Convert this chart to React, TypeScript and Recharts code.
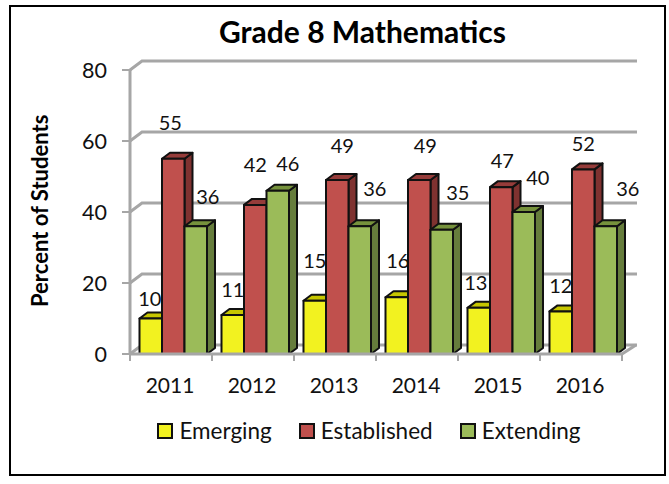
import { Bar, BarChart, CartesianGrid, LabelList, Legend, XAxis, YAxis } from "recharts";

const years = ["2011", "2012", "2013", "2014", "2015", "2016"];
const emerging = [10, 11, 15, 16, 13, 12];
const established = [55, 42, 49, 49, 47, 52];
const extending = [36, 46, 36, 35, 40, 36];
const yTicks = [0, 20, 40, 60, 80];

const data = years.map((year, i) => ({
  year,
  Emerging: emerging[i],
  Established: established[i],
  Extending: extending[i],
}));

// the value labels in the original were hand placed, so each one has its own nudge
const EMERGING_NUDGE = [[-1, -21], [0, -26], [0, -41], [1, -37], [-3, -26], [0, -26]];
const ESTABLISHED_NUDGE = [[-3, -37], [0, -41], [5, -35], [6, -35], [1, -27], [0, -26]];
const EXTENDING_NUDGE = [[12, -30], [10, -28], [15, -38], [16, -38], [14, -35], [22, -38]];

const FONT = "Lato, sans-serif";
const GRID = "#a6a6a6";
const DEPTH_X = 8;
const DEPTH_Y = 6;
const SHIFT = 2.5;

const box3d = (top: string, side: string) => (props: any) => {
  const { fill } = props;
  const x = props.x + SHIFT;
  const { y, width: w, height: h } = props;
  return (
    <g stroke="#111" strokeWidth={2} strokeLinejoin="round">
      <path fill={side} d={`M${x + w} ${y} l${DEPTH_X} ${-DEPTH_Y} v${h} l${-DEPTH_X} ${DEPTH_Y} z`} />
      <path fill={top} d={`M${x} ${y} l${DEPTH_X} ${-DEPTH_Y} h${w} l${-DEPTH_X} ${DEPTH_Y} z`} />
      <rect x={x} y={y} width={w} height={h} fill={fill} />
    </g>
  );
};

const nudged = (nudge: number[][]) => (props: any) => {
  const { x, y, width, index, value } = props;
  return (
    <text
      x={x + width / 2 + SHIFT + nudge[index][0]}
      y={y + nudge[index][1]}
      textAnchor="middle"
      dominantBaseline="central"
      fontFamily={FONT}
      fontSize={20}
      fill="#111"
    >
      {value}
    </text>
  );
};

const gridLine = (props: any) => {
  const { x1, x2, y1 } = props;
  return (
    <g key={`grid-${y1}`} stroke={GRID} strokeWidth={3} fill="none">
      <path d={`M${x1} ${y1} L${x1 + 12} ${y1 - 9} L${x2 + 15} ${y1 - 9}`} />
    </g>
  );
};

const YTick = (props: any) => {
  const { x, y, payload } = props;
  return (
    <g>
      <line x1={x} x2={x + 8} y1={y} y2={y} stroke={GRID} strokeWidth={2} />
      <text x={x - 15} y={y} textAnchor="end" dominantBaseline="central" fontFamily={FONT} fontSize={21.5} fill="#111">
        {payload.value}
      </text>
    </g>
  );
};

const XTick = (props: any) => {
  const { x, y, payload, index, visibleTicksCount } = props;
  const half = 41;
  const isLast = index === visibleTicksCount - 1;
  return (
    <g>
      <line x1={x - half} x2={x - half} y1={y - 8} y2={y - 1} stroke={GRID} strokeWidth={2} />
      {isLast && (
        <g stroke={GRID} fill="none">
          <line x1={x + half} x2={x + half} y1={y - 8} y2={y - 1} strokeWidth={2} />
          <line x1={x + half} x2={x + half + 14} y1={y - 8} y2={y - 17} strokeWidth={3} />
        </g>
      )}
      <text x={x - 1} y={y + 22} textAnchor="middle" dominantBaseline="central" fontFamily={FONT} fontSize={21} fill="#111">
        {payload.value}
      </text>
    </g>
  );
};

const renderLegend = (props: any) => (
  <div style={{ display: "flex", justifyContent: "center", gap: 27, fontFamily: FONT, fontSize: 22.5, color: "#111" }}>
    {props.payload.map((item: any) => (
      <span key={item.value} style={{ display: "flex", alignItems: "center", gap: 6 }}>
        <span style={{ width: 12, height: 12, background: item.color, border: "2px solid #111" }} />
        {item.value}
      </span>
    ))}
  </div>
);

export default function App() {
  return (
    <div style={{ position: "absolute", left: 0, top: 0, width: 669, height: 484, background: "#fff" }}>
      <div
        style={{
          position: "absolute",
          left: 9,
          top: 5,
          width: 653,
          height: 467,
          border: "2px solid #000",
        }}
      />
      <div
        style={{
          position: "absolute",
          left: 0,
          top: 13,
          width: 725,
          textAlign: "center",
          fontFamily: FONT,
          fontWeight: 700,
          fontSize: 30,
          color: "#000",
        }}
      >
        Grade 8 Mathematics
      </div>
      <BarChart
        width={669}
        height={484}
        data={data}
        barSize={22.5}
        barGap={0}
        margin={{ top: 70, right: 47, bottom: 80, left: 70 }}
        style={{ position: "absolute", left: 0, top: 0 }}
      >
        <CartesianGrid vertical={false} horizontal={gridLine} />
        <XAxis
          dataKey="year"
          height={50}
          tick={<XTick />}
          tickLine={false}
          interval={0}
          axisLine={{ stroke: GRID, strokeWidth: 3 }}
        />
        <YAxis
          domain={[0, 80]}
          ticks={yTicks}
          width={60}
          tick={<YTick />}
          tickLine={false}
          axisLine={{ stroke: GRID, strokeWidth: 3 }}
          label={{
            value: "Percent of Students",
            angle: -90,
            position: "insideLeft",
            dx: -35,
            dy: 95,
            style: { fontFamily: FONT, fontWeight: 700, fontSize: 22, fill: "#000" },
          }}
        />
        <Legend
          verticalAlign="middle"
          align="center"
          content={renderLegend}
          wrapperStyle={{ position: "absolute", top: 417, left: 0, width: 738, height: 30 }}
        />
        <Bar dataKey="Emerging" fill="#f2f220" shape={box3d("#c6c600", "#8f8f10")} isAnimationActive={false}>
          <LabelList dataKey="Emerging" content={nudged(EMERGING_NUDGE)} />
        </Bar>
        <Bar dataKey="Established" fill="#c0504d" shape={box3d("#963c3a", "#7f3230")} isAnimationActive={false}>
          <LabelList dataKey="Established" content={nudged(ESTABLISHED_NUDGE)} />
        </Bar>
        <Bar dataKey="Extending" fill="#9bbb59" shape={box3d("#76923c", "#667d3c")} isAnimationActive={false}>
          <LabelList dataKey="Extending" content={nudged(EXTENDING_NUDGE)} />
        </Bar>
      </BarChart>
    </div>
  );
}
